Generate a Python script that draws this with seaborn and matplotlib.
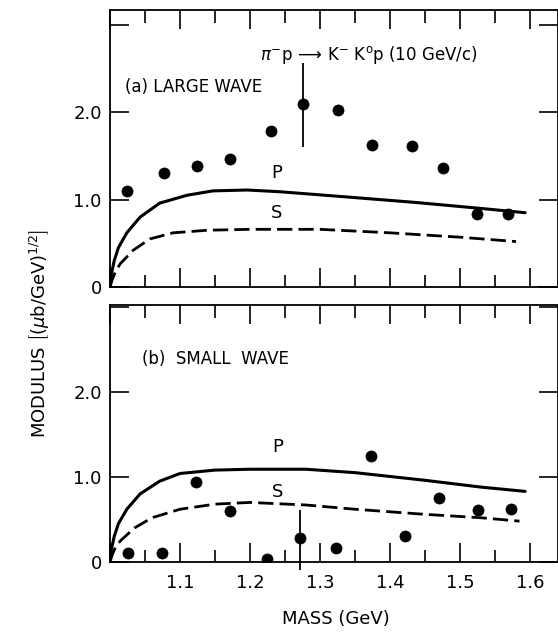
import matplotlib
matplotlib.use("Agg")
import matplotlib.pyplot as plt
import seaborn as sns
import pandas as pd
from matplotlib.ticker import FixedLocator, FixedFormatter, MultipleLocator

# ---------------- data ----------------
# (a) large wave: data points
mass_a = [1.024, 1.077, 1.124, 1.171, 1.230, 1.276, 1.326, 1.374, 1.431, 1.476, 1.524, 1.569]
mod_a = [1.10, 1.31, 1.38, 1.46, 1.79, 2.09, 2.03, 1.62, 1.61, 1.36, 0.83, 0.83]
err_a_x = [1.276]
err_a_lo = [1.60]
err_a_hi = [2.56]

# (a) P curve
pa_x = [1.000, 1.002, 1.006, 1.012, 1.024, 1.043, 1.071, 1.110, 1.147, 1.196, 1.243, 1.339, 1.433, 1.529, 1.593]
pa_y = [0.00, 0.15, 0.30, 0.45, 0.62, 0.80, 0.96, 1.05, 1.10, 1.11, 1.09, 1.03, 0.97, 0.90, 0.85]
# (a) S curve
sa_x = [1.000, 1.003, 1.008, 1.015, 1.033, 1.057, 1.090, 1.140, 1.200, 1.300, 1.400, 1.500, 1.580]
sa_y = [0.00, 0.08, 0.18, 0.27, 0.42, 0.55, 0.62, 0.65, 0.66, 0.66, 0.62, 0.57, 0.52]

# (b) small wave: data points
mass_b = [1.026, 1.074, 1.123, 1.171, 1.224, 1.271, 1.323, 1.373, 1.421, 1.470, 1.526, 1.573]
mod_b = [0.10, 0.11, 0.94, 0.60, 0.04, 0.28, 0.16, 1.24, 0.30, 0.75, 0.61, 0.62]
err_b_x = [1.271]
err_b_lo = [-0.09]
err_b_hi = [0.61]

# (b) P curve
pb_x = [1.000, 1.002, 1.006, 1.012, 1.024, 1.043, 1.071, 1.100, 1.150, 1.200, 1.280, 1.350, 1.450, 1.530, 1.593]
pb_y = [0.00, 0.15, 0.30, 0.45, 0.62, 0.80, 0.95, 1.04, 1.08, 1.09, 1.09, 1.05, 0.96, 0.88, 0.83]
# (b) S curve
sb_x = [1.000, 1.003, 1.008, 1.015, 1.035, 1.060, 1.100, 1.150, 1.200, 1.280, 1.350, 1.450, 1.530, 1.585]
sb_y = [0.00, 0.08, 0.18, 0.25, 0.40, 0.52, 0.62, 0.68, 0.70, 0.67, 0.62, 0.56, 0.52, 0.48]

x_major = [1.0, 1.1, 1.2, 1.3, 1.4, 1.5, 1.6]
x_labels = ["", "1.1", "1.2", "1.3", "1.4", "1.5", "1.6"]
y_major = [0, 1, 2, 3]
y_labels = ["0", "1.0", "2.0", ""]

# ---------------- style ----------------
sns.set_style("ticks")
plt.rcParams["font.family"] = ["DejaVu Sans"]
plt.rcParams["mathtext.fontset"] = "dejavusans"
plt.rcParams["text.color"] = "black"
plt.rcParams["axes.labelcolor"] = "black"
plt.rcParams["xtick.color"] = "black"
plt.rcParams["ytick.color"] = "black"

fig = plt.figure(figsize=(5.58, 6.36), dpi=100)
ax_a = fig.add_axes([110 / 558, 1 - 287 / 636, 1 - 110 / 558, (287 - 10) / 636])
ax_b = fig.add_axes([110 / 558, 1 - 562 / 636, 1 - 110 / 558, (562 - 305) / 636])

panels = [
    (ax_a, mass_a, mod_a, err_a_x, err_a_lo, err_a_hi, pa_x, pa_y, sa_x, sa_y, 3.17),
    (ax_b, mass_b, mod_b, err_b_x, err_b_lo, err_b_hi, pb_x, pb_y, sb_x, sb_y, 3.02),
]

for ax, mx, my, ex, elo, ehi, px, py, sx, sy, ytop in panels:
    dfp = pd.DataFrame({"mass": px, "mod": py})
    dfs = pd.DataFrame({"mass": sx, "mod": sy})
    dpt = pd.DataFrame({"mass": mx, "mod": my})
    sns.lineplot(data=dfp, x="mass", y="mod", ax=ax, color="black", lw=2.2,
                 sort=False, estimator=None)
    sns.lineplot(data=dfs, x="mass", y="mod", ax=ax, color="black", lw=2.0,
                 sort=False, estimator=None, linestyle=(0, (5.5, 2.2)))
    sns.scatterplot(data=dpt, x="mass", y="mod", ax=ax, color="black", s=64,
                    edgecolor="black", linewidth=0.5, zorder=5)
    ax.vlines(ex, elo, ehi, color="black", lw=1.3, clip_on=False, zorder=4)

    ax.set_xlim(1.0, 1.64)
    ax.set_ylim(0, ytop)
    ax.xaxis.set_major_locator(FixedLocator(x_major))
    ax.xaxis.set_minor_locator(MultipleLocator(0.05))
    ax.yaxis.set_major_locator(FixedLocator(y_major))
    ax.yaxis.set_major_formatter(FixedFormatter(y_labels))
    ax.tick_params(which="both", direction="in", top=True, right=True, width=1.2,
                   colors="black", labelsize=13, pad=6)
    ax.tick_params(axis="x", which="major", pad=9)
    ax.tick_params(which="major", length=14)
    ax.tick_params(which="minor", length=9)
    ax.tick_params(axis="y", which="minor", length=0)
    for sp in ax.spines.values():
        sp.set_visible(True)
        sp.set_linewidth(1.3)
        sp.set_color("black")
    ax.set_xlabel("")
    ax.set_ylabel("")

ax_a.xaxis.set_major_formatter(FixedFormatter([""] * len(x_major)))
ax_b.xaxis.set_major_formatter(FixedFormatter(x_labels))

# annotations
ax_a.text(1.022, 2.29, "(a) LARGE WAVE", fontsize=12, ha="left", va="center", color="black")
ax_a.text(1.214, 2.65, r"$\pi^{-}$p$\,\longrightarrow\,$K$^{-}$ K$^{\rm o}$p (10 GeV/c)",
          fontsize=12, ha="left", va="center", color="black")
ax_a.text(1.238, 1.30, "P", fontsize=13, ha="center", va="center", color="black")
ax_a.text(1.238, 0.85, "S", fontsize=13, ha="center", va="center", color="black")

ax_b.text(1.046, 2.38, "(b)  SMALL  WAVE", fontsize=12, ha="left", va="center", color="black")
ax_b.text(1.240, 1.35, "P", fontsize=13, ha="center", va="center", color="black")
ax_b.text(1.240, 0.82, "S", fontsize=13, ha="center", va="center", color="black")

fig.text(336 / 558, 1 - 619 / 636, "MASS (GeV)", fontsize=13, ha="center", va="center",
         color="black")
fig.text(40 / 558, 0.475, r"MODULUS $\left[(\mu\mathrm{b/GeV})^{1/2}\right]$",
         fontsize=13, rotation=90, ha="center", va="center", color="black")

fig.savefig("out.png", dpi=100)
